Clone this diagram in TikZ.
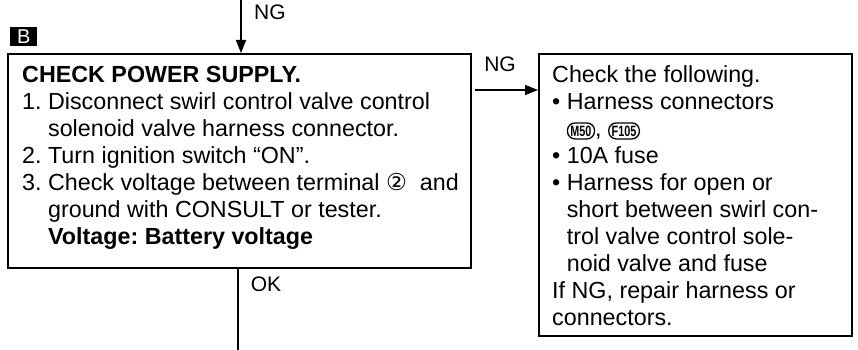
\documentclass[tikz,border=0pt]{standalone}
\usepackage{fontspec}
\usepackage{graphicx}
\setmainfont{Liberation Sans}
\newfontfamily\symfont{DejaVu Sans}
\usetikzlibrary{arrows.meta}
\frenchspacing
\tikzset{
  boxst/.style={draw, line width=1.7pt, inner sep=0pt, anchor=north west},
  bodytxt/.style={inner sep=0pt, anchor=north west, align=left, font=\fontsize{23.3}{27}\selectfont},
  lbl/.style={inner sep=0pt, font=\fontsize{21}{21}\selectfont},
  arr/.style={line width=1.5pt, -{Triangle[length=13pt,width=10pt]}},
  plainline/.style={line width=1.5pt},
  conn/.style={draw, line width=1.3pt, rounded corners=7.5pt, inner xsep=3pt, inner ysep=1.8pt, minimum height=16pt, font=\fontsize{15}{15}\selectfont\bfseries},
  tagst/.style={fill=black, text=white, inner sep=0pt, minimum width=27pt, minimum height=19pt, font=\fontsize{20}{20}\selectfont}
}
\newcommand\connbox[2]{\tikz[baseline=(#1.base)]\node[conn](#1){\scalebox{0.72}[1]{#2}};}
\begin{document}
\begin{tikzpicture}[x=1pt,y=-1pt]
\fill[white] (0,0) rectangle (858,350);
\useasboundingbox (0,0) rectangle (858,350);
% tag
\node[tagst, anchor=north west] (tag) at (10,27) {B};
% boxes
\node[boxst, minimum width=463pt, minimum height=214pt] (chk) at (7,53) {};
\node[boxst, minimum width=313pt, minimum height=282pt] (fix) at (538,53) {};
% texts
\node[bodytxt] (chktxt) at (22,66) {\textbf{CHECK POWER SUPPLY.}\\
1. Disconnect swirl control valve control\\
\hspace*{1.112em}solenoid valve harness connector.\\
2. Turn ignition switch “ON”.\\
3. Check voltage between terminal {\symfont ②}\ \ and\\
\hspace*{1.112em}ground with CONSULT or tester.\\
\hspace*{1.112em}\textbf{Voltage: Battery voltage}};
\node[bodytxt] (fixtxt) at (552,65) {Check the following.\\
• Harness connectors\\
\hspace*{0.628em}\connbox{m50}{M50}, \connbox{f105}{F105}\\
• 10A fuse\\
• Harness for open or\\
\hspace*{0.628em}short between swirl con-\\
\hspace*{0.628em}trol valve control sole-\\
\hspace*{0.628em}noid valve and fuse\\
If NG, repair harness or\\
connectors.};
% connectors
\coordinate (topin) at (241,0);
\coordinate (ngy) at (0,90);
\coordinate (botout) at (238,350);
\draw[arr] (topin) -- (topin |- chk.north);
\draw[arr, shorten <=3pt] (chk.east |- ngy) -- (fix.west |- ngy);
\draw[plainline] (botout |- chk.south) -- (botout);
% labels
\node[lbl, anchor=west] (ngtop) at (254,12) {NG};
\node[lbl] (ngright) at (500,64) {NG};
\node[lbl] (ok) at (266,284.5) {OK};
\end{tikzpicture}
\end{document}
